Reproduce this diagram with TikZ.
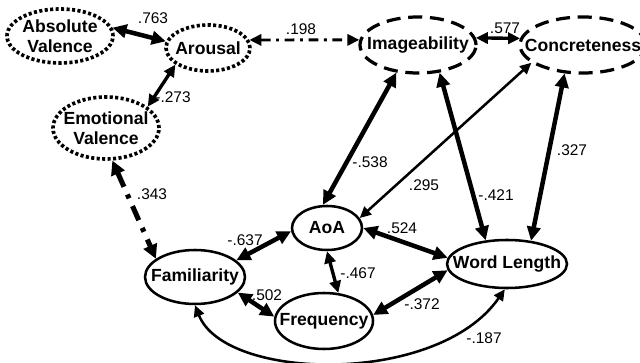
\documentclass[tikz,border=0pt]{standalone}
\usepackage{fontspec}
\setmainfont{Liberation Sans}
\usetikzlibrary{shapes.geometric,arrows.meta}

\begin{document}
\begin{tikzpicture}[x=0.25cm,y=0.25cm,
  vartext/.style={inner sep=0pt,align=center,font=\fontsize{12.5}{14.5}\selectfont\bfseries},
  var/.style={ellipse,draw=black,inner sep=0pt,line width=1.8pt,label={[vartext]center:#1}},
  dotvar/.style={var={#1},line width=2.6pt,dash pattern=on 2.2pt off 1.7pt},
  dashvar/.style={var={#1},line width=2.3pt,dash pattern=on 10pt off 5.5pt},
  lbl/.style={inner sep=0pt,font=\fontsize{11}{12}\selectfont},
  heavy/.style={line width=3.2pt,{Triangle[length=10pt,width=9.5pt]}-{Triangle[length=10pt,width=9.5pt]}},
  medium/.style={line width=2.4pt,{Triangle[length=8.5pt,width=8pt]}-{Triangle[length=8.5pt,width=8pt]}},
  light/.style={line width=1.8pt,{Triangle[length=8pt,width=7.5pt]}-{Triangle[length=8pt,width=7.5pt]}},
  dashdot/.style={line width=2pt,dash pattern=on 7pt off 4pt on 2pt off 4pt,{Triangle[length=8.5pt,width=8pt]}-{Triangle[length=8.5pt,width=8pt]}},
  dashdotheavy/.style={line width=3.6pt,dash pattern=on 11pt off 6pt on 3pt off 6pt,{Triangle[length=10pt,width=10pt]}-{Triangle[length=10pt,width=10pt]}}]
\useasboundingbox (0,0) rectangle (64,-36.3);
\node[dotvar={Absolute\\Valence},minimum width=2.65cm,minimum height=1.35cm] (absval) at (6.0,-3.6) {};
\node[dotvar={Arousal},minimum width=2.1cm,minimum height=1.15cm] (arousal) at (20.8,-4.8) {};
\node[dotvar={Emotional\\Valence},minimum width=2.65cm,minimum height=1.55cm] (emoval) at (10.6,-12.8) {};
\node[dashvar={Imageability},minimum width=2.9cm,minimum height=1.4cm] (image) at (41.8,-4.5) {};
\node[dashvar={Concreteness},minimum width=3.15cm,minimum height=1.4cm] (concr) at (58.3,-4.5) {};
\node[var={AoA},minimum width=1.75cm,minimum height=1.1cm] (aoa) at (32.7,-22.8) {};
\node[var={Familiarity},minimum width=2.5cm,minimum height=1.35cm] (famil) at (19.5,-27.7) {};
\node[var={Frequency},minimum width=2.45cm,minimum height=1.4cm] (freq) at (32.4,-32.1) {};
\node[var={Word Length},minimum width=3.0cm,minimum height=1.2cm] (wordlen) at (50.7,-26.4) {};

\draw[heavy] (absval.9) -- (arousal.171);
\draw[medium] (arousal.207) -- (emoval.27);
\draw[dashdot] (arousal.11) -- (image.175);
\draw[medium] (image.7) -- (concr.174);
\draw[dashdotheavy] (emoval.281) -- (famil.155);
\draw[heavy] (aoa.100) -- (image.232);
\draw[light] (aoa.17) -- (concr.199);
\draw[heavy] (image.308) -- (wordlen.132);
\draw[heavy] (concr.237) -- (wordlen.44);
\draw[heavy] (aoa.185) -- (famil.22);
\draw[heavy] (aoa.0) -- (wordlen.174);
\draw[medium] (aoa.270) -- (freq.63);
\draw[heavy] (famil.-20) -- (freq.175);
\draw[heavy] (freq.7) -- (wordlen.186);
\draw[light] (famil.270) .. controls +(3.0,-7.6) and +(-6.7,-9.7) .. (wordlen.265);

\node[lbl] (r763) at (15.3,-1.8) {.763};
\node[lbl] (r198) at (30.1,-2.9) {.198};
\node[lbl] (r577) at (50.5,-2.8) {.577};
\node[lbl] (r273) at (17.3,-9.7) {-.273};
\node[lbl] (r343) at (15.2,-19.4) {.343};
\node[lbl] (r538) at (37.0,-16.2) {-.538};
\node[lbl] (r295) at (42.4,-18.5) {.295};
\node[lbl] (r421) at (49.6,-19.5) {-.421};
\node[lbl] (r327) at (57.2,-15.0) {.327};
\node[lbl] (r637) at (24.5,-24.0) {-.637};
\node[lbl] (r524) at (40.2,-22.8) {.524};
\node[lbl] (r467) at (35.8,-27.3) {-.467};
\node[lbl] (r502) at (26.7,-29.5) {.502};
\node[lbl] (r372) at (42.2,-30.4) {-.372};
\node[lbl] (r187) at (48.4,-33.8) {-.187};
\end{tikzpicture}
\end{document}
